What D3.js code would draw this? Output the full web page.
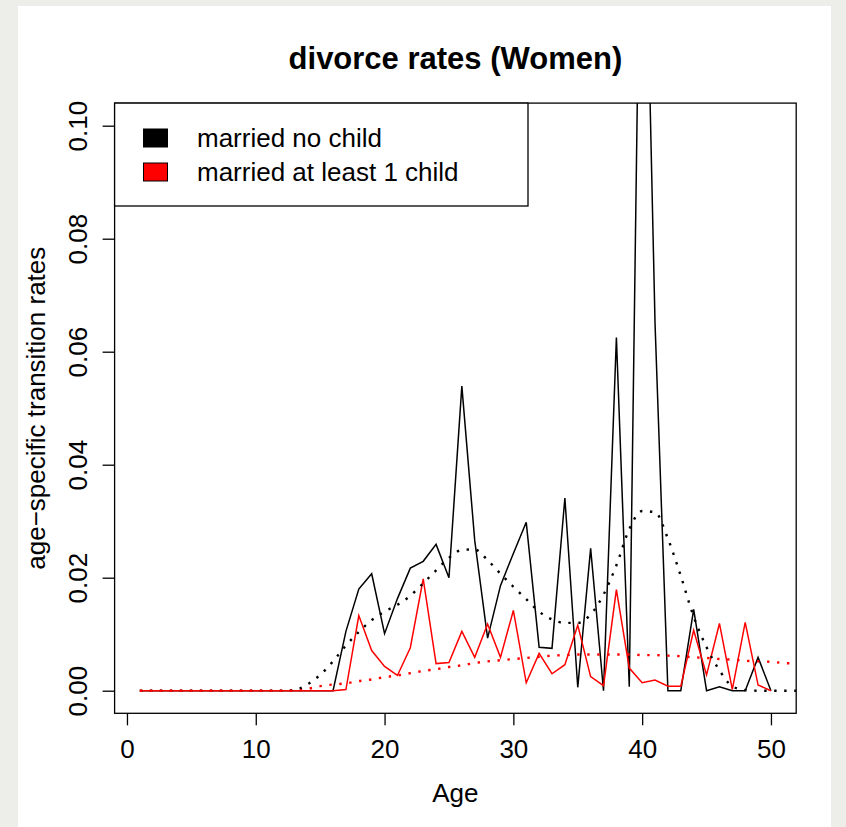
<!DOCTYPE html>
<html>
<head>
<meta charset="utf-8">
<script src="https://cdn.jsdelivr.net/npm/d3@7"></script>
<style>
  html, body { margin: 0; padding: 0; background: #ededE9; }
  svg { display: block; }
  text { font-family: "Liberation Sans", Arial, Helvetica, sans-serif; fill: #000; }
</style>
</head>
<body>
<div id="chart"></div>
<script>
// ---- data ----
var ages = d3.range(1, 51);

// observed rates, ages 1..50
var noChild = [
    0, 0, 0, 0, 0, 0, 0, 0, 0, 0,
    0, 0, 0, 0, 0, 0, 0.0105, 0.0180, 0.0207, 0.0101,
    0.0163, 0.0217, 0.0229, 0.0259, 0.0200, 0.0539, 0.0266, 0.0093, 0.0186, 0.0243,
    0.0298, 0.0077, 0.0075, 0.0341, 0.0006, 0.0252, 0.0000, 0.0625, 0.0007, 0.1670,
    0.0650, 0.0000, 0.0000, 0.0144, 0.0000, 0.0007, 0.0000, 0.0000, 0.0059, 0.0000
];
var withChild = [
    0, 0, 0, 0, 0, 0, 0, 0, 0, 0,
    0, 0, 0, 0, 0, 0, 0.0002, 0.0133, 0.0071, 0.0043,
    0.0027, 0.0076, 0.0198, 0.0048, 0.0050, 0.0105, 0.0059, 0.0118, 0.0059, 0.0142,
    0.0014, 0.0066, 0.0030, 0.0046, 0.0116, 0.0025, 0.0009, 0.0179, 0.0040, 0.0014,
    0.0019, 0.0008, 0.0008, 0.0107, 0.0028, 0.0119, 0.0002, 0.0121, 0.0010, 0.0000
];

// smoothed curves (dotted), ages 1..53
var smoothAges = d3.range(1, 54);
var noChildSmooth = [
    0, 0, 0, 0, 0, 0, 0, 0, 0, 0,
    0, 0, 0.0001, 0.0011, 0.0028, 0.0052, 0.0080, 0.0104, 0.0125, 0.0140,
    0.0152, 0.0168, 0.0190, 0.0213, 0.0235, 0.0249, 0.0250, 0.0231, 0.0207, 0.0184,
    0.0162, 0.0140, 0.0126, 0.0120, 0.0120, 0.0135, 0.0170, 0.0222, 0.0286, 0.0318,
    0.0316, 0.0269, 0.0203, 0.0131, 0.0077, 0.0036, 0.0008, 0.0001, 0, 0,
    0, 0, 0
];
var withChildSmooth = [
    0, 0, 0, 0, 0, 0, 0, 0, 0, 0,
    0, 0, 0, 0.0003, 0.0008, 0.0011, 0.0013, 0.0017, 0.0020, 0.0024,
    0.0027, 0.0031, 0.0035, 0.0038, 0.0042, 0.0045, 0.0049, 0.0052, 0.0054, 0.0056,
    0.0058, 0.0060, 0.0062, 0.0063, 0.0064, 0.0064, 0.0064, 0.0064, 0.0064, 0.0063,
    0.0063, 0.0062, 0.0061, 0.0059, 0.0058, 0.0056, 0.0055, 0.0053, 0.0052, 0.0051,
    0.0049, 0.0048, 0.0047
];

var xTicks = [0, 10, 20, 30, 40, 50];
var yTicks = [0, 0.02, 0.04, 0.06, 0.08, 0.10];
var legendLabels = ['married no child', 'married at least 1 child'];
var seriesColors = ['#000000', '#ff0000'];

var title = 'divorce rates (Women)';
var xLabel = 'Age';
var yLabel = 'age\u2212specific transition rates';

// ---- layout ----
var W = 846, H = 827;
var plot = { left: 114.6, right: 796.2, top: 103.1, bottom: 713.3 };
var FS = 26;

var svg = d3.select('#chart').append('svg')
    .attr('width', W)
    .attr('height', H);

svg.append('rect')
    .attr('x', 0).attr('y', 0).attr('width', W).attr('height', H)
    .attr('fill', '#ededE9');
svg.append('rect')
    .attr('x', 18).attr('y', 6).attr('width', 813).attr('height', H - 6)
    .attr('fill', '#ffffff');

// R style 4% padding on both axes
var xPad = (50 - 1) * 0.04, yPad = 0.1 * 0.04;
var x = d3.scaleLinear().domain([1 - xPad, 50 + xPad]).range([plot.left, plot.right]);
var y = d3.scaleLinear().domain([0 - yPad, 0.1 + yPad]).range([plot.bottom, plot.top]);

svg.append('defs').append('clipPath')
    .attr('id', 'plot-clip')
    .append('rect')
    .attr('x', plot.left).attr('y', plot.top)
    .attr('width', plot.right - plot.left)
    .attr('height', plot.bottom - plot.top);

var g = svg.append('g').attr('clip-path', 'url(#plot-clip)');

var rawLine = d3.line()
    .x(function(d) { return x(d[0]); })
    .y(function(d) { return y(d[1]); });

var smoothLine = d3.line()
    .curve(d3.curveMonotoneX)
    .x(function(d) { return x(d[0]); })
    .y(function(d) { return y(d[1]); });

function zipAges(a, v) { return a.map(function(t, i) { return [t, v[i]]; }); }

g.append('path')
    .attr('d', rawLine(zipAges(ages, noChild)))
    .attr('fill', 'none')
    .attr('stroke', seriesColors[0])
    .attr('stroke-width', 1.5);

g.append('path')
    .attr('d', rawLine(zipAges(ages, withChild)))
    .attr('fill', 'none')
    .attr('stroke', seriesColors[1])
    .attr('stroke-width', 1.5);

g.append('path')
    .attr('d', smoothLine(zipAges(smoothAges, noChildSmooth)))
    .attr('fill', 'none')
    .attr('stroke', seriesColors[0])
    .attr('stroke-width', 2.4)
    .attr('stroke-dasharray', '2.4,7.6');

g.append('path')
    .attr('d', smoothLine(zipAges(smoothAges, withChildSmooth)))
    .attr('fill', 'none')
    .attr('stroke', seriesColors[1])
    .attr('stroke-width', 2.4)
    .attr('stroke-dasharray', '2.4,7.6');

// ---- axes ----
var xAxis = svg.append('g')
    .attr('transform', 'translate(0,' + plot.bottom + ')')
    .call(d3.axisBottom(x).tickValues(xTicks).tickSize(12).tickSizeOuter(0));
xAxis.select('.domain').remove();
xAxis.selectAll('line').attr('stroke', '#000').attr('stroke-width', 1.3);
xAxis.selectAll('text')
    .attr('y', 45).attr('dy', null)
    .style('font-size', FS + 'px')
    .style('font-family', null);

var yAxis = svg.append('g')
    .attr('transform', 'translate(' + plot.left + ',0)')
    .call(d3.axisLeft(y).tickValues(yTicks).tickFormat(d3.format('.2f')).tickSize(12).tickSizeOuter(0));
yAxis.select('.domain').remove();
yAxis.selectAll('line').attr('stroke', '#000').attr('stroke-width', 1.3);
yAxis.selectAll('text')
    .attr('x', 0).attr('dy', null)
    .attr('text-anchor', 'middle')
    .attr('transform', 'translate(-28,0) rotate(-90)')
    .style('font-size', FS + 'px')
    .style('font-family', null);
svg.selectAll('.tick text').attr('fill', '#000');

// plot frame
svg.append('rect')
    .attr('x', plot.left).attr('y', plot.top)
    .attr('width', plot.right - plot.left)
    .attr('height', plot.bottom - plot.top)
    .attr('fill', 'none')
    .attr('stroke', '#000')
    .attr('stroke-width', 1.3);

// ---- titles ----
var cx = (plot.left + plot.right) / 2;
svg.append('text')
    .attr('x', cx).attr('y', 69)
    .attr('text-anchor', 'middle')
    .style('font-size', '31px')
    .style('font-weight', 'bold')
    .text(title);

svg.append('text')
    .attr('x', cx).attr('y', 802)
    .attr('text-anchor', 'middle')
    .style('font-size', FS + 'px')
    .text(xLabel);

svg.append('text')
    .attr('transform', 'translate(45,' + ((plot.top + plot.bottom) / 2) + ') rotate(-90)')
    .attr('text-anchor', 'middle')
    .style('font-size', FS + 'px')
    .text(yLabel);

// ---- legend ----
var legend = svg.append('g');
legend.append('rect')
    .attr('x', plot.left).attr('y', plot.top)
    .attr('width', 528 - plot.left).attr('height', 206 - plot.top)
    .attr('fill', '#fff')
    .attr('stroke', '#000')
    .attr('stroke-width', 1.3);

legendLabels.forEach(function(lab, i) {
    var cy = 138 + i * 34;
    legend.append('rect')
        .attr('x', 143.5).attr('y', cy - 9)
        .attr('width', 24).attr('height', 18)
        .attr('fill', seriesColors[i])
        .attr('stroke', '#000')
        .attr('stroke-width', 1);
    legend.append('text')
        .attr('x', 197).attr('y', cy + 9)
        .style('font-size', FS + 'px')
        .text(lab);
});
</script>
</body>
</html>
